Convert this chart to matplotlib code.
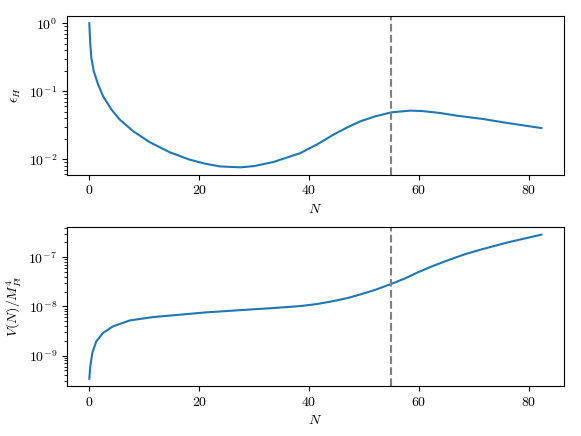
import numpy as np
import matplotlib
matplotlib.use("Agg")
import matplotlib.pyplot as plt

plt.rcParams['font.family'] = 'serif'
plt.rcParams['font.serif'] = ['cmr10', 'DejaVu Serif']
plt.rcParams['mathtext.fontset'] = 'cm'
plt.rcParams['axes.formatter.use_mathtext'] = True
plt.rcParams['axes.unicode_minus'] = False

# epsilon_H vs N (log10 values)
N_eps = [0.0, 0.09, 0.18, 0.36, 0.79, 1.58, 2.48, 4.0, 5.5, 7.94, 10.97, 14.6, 18.2,
         21.1, 23.8, 27.5, 30.0, 33.5, 38.4, 41.5, 44.4, 47.0, 49.3, 52.0, 55.0, 58.4,
         60.5, 63.8, 67.0, 71.7, 76.0, 82.3]
log_eps = [0.0, -0.16, -0.305, -0.50, -0.70, -0.896, -1.068, -1.265, -1.413, -1.585,
           -1.747, -1.895, -2.004, -2.065, -2.105, -2.118, -2.10, -2.04, -1.91, -1.78,
           -1.64, -1.53, -1.443, -1.37, -1.31, -1.285, -1.29, -1.319, -1.36, -1.408,
           -1.465, -1.541]
eps_H = [10 ** v for v in log_eps]

# V(N)/M_Pl^4 vs N (log10 values)
N_V = [0.0, 0.18, 0.55, 1.27, 2.48, 4.3, 7.33, 11.6, 16.4, 21.1, 29.3, 33.5, 38.4,
       41.5, 44.4, 47.0, 49.3, 52.0, 55.0, 57.5, 59.6, 62.5, 65.6, 68.5, 71.7, 76.5,
       82.3]
log_V = [-9.47, -9.217, -8.945, -8.71, -8.54, -8.406, -8.285, -8.216, -8.169, -8.122,
         -8.062, -8.033, -7.993, -7.95, -7.892, -7.83, -7.758, -7.665, -7.541, -7.43,
         -7.318, -7.18, -7.049, -6.935, -6.832, -6.69, -6.542]
V = [10 ** v for v in log_V]

N_end = 55.0

fig, (ax1, ax2) = plt.subplots(2, 1, figsize=(5.81, 4.36), dpi=100)
fig.subplots_adjust(left=0.1148, right=0.9707, top=0.9633, bottom=0.1147, hspace=0.334)

ax1.plot(N_eps, eps_H, color='tab:blue', lw=1.5)
ax1.axvline(N_end, color='gray', ls='--', lw=1.5)
ax1.set_yscale('log')
ax1.set_xlabel(r'$N$')
ax1.set_ylabel(r'$\epsilon_H$')

ax2.plot(N_V, V, color='tab:blue', lw=1.5)
ax2.axvline(N_end, color='gray', ls='--', lw=1.5)
ax2.set_yscale('log')
ax2.set_xlabel(r'$N$')
ax2.set_ylabel(r'$V(N)/M_{Pl}^4$')

for ax in (ax1, ax2):
    ax.set_xticks([0, 20, 40, 60, 80])

fig.savefig('out.png', dpi=100)
